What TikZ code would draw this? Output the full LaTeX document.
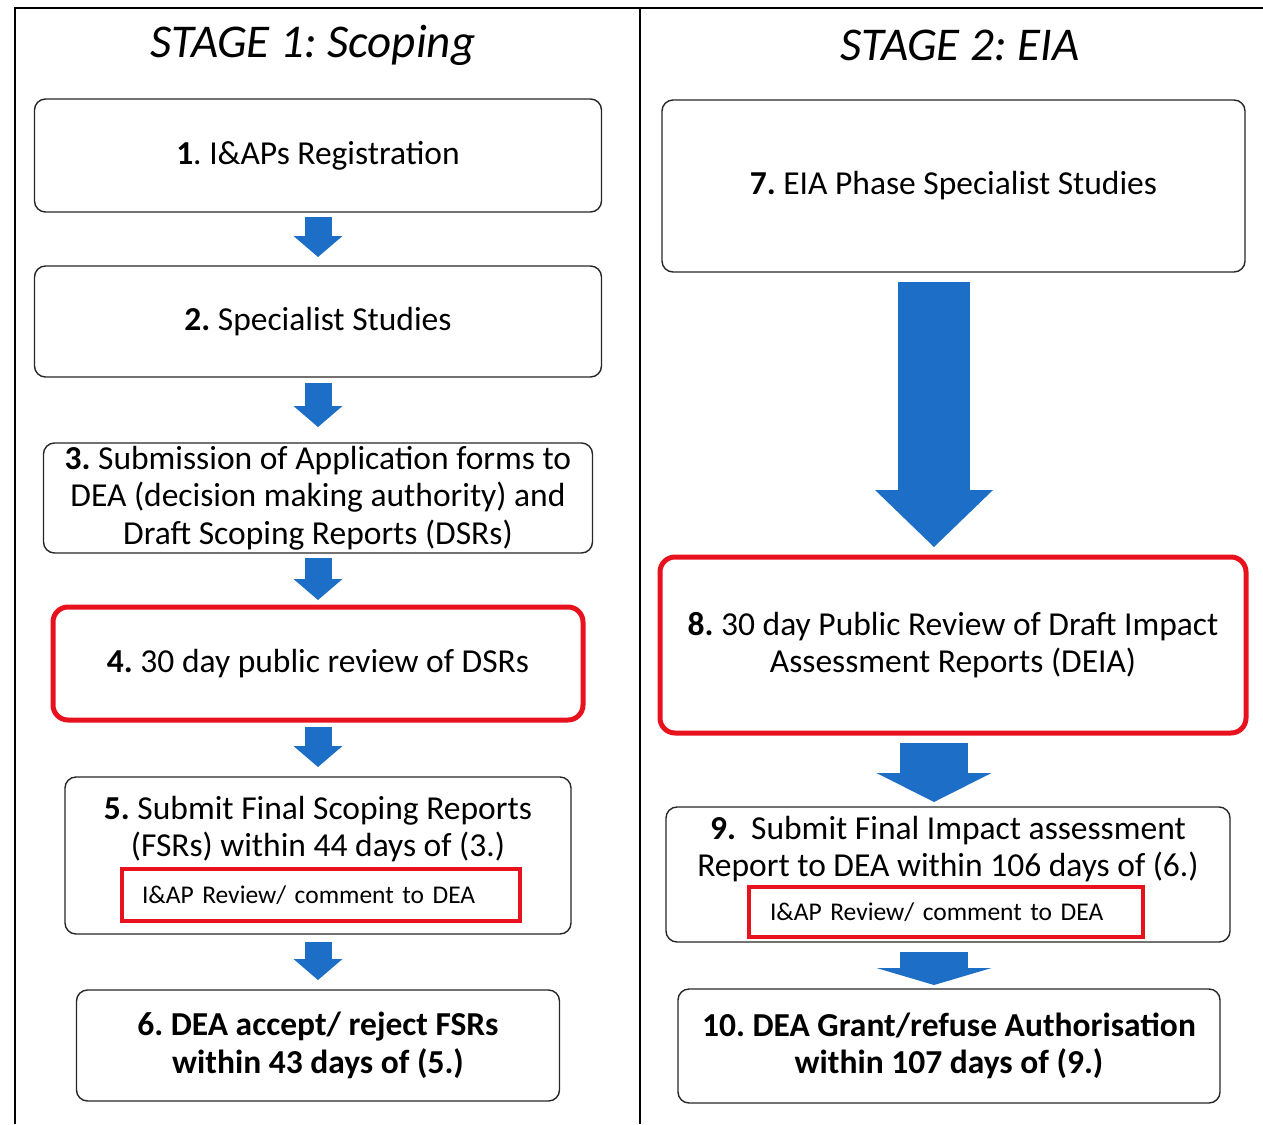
\documentclass[tikz,border=0pt]{standalone}
\usepackage{fontspec}
\setmainfont{Carlito}
\usetikzlibrary{arrows.meta}
\definecolor{flowblue}{RGB}{28,110,198}
\definecolor{flowred}{RGB}{232,18,30}
\tikzset{
  stepbox/.style={draw=black!85, line width=1.4pt, rounded corners=11pt, inner sep=0pt, outer sep=0pt, align=center, font=\fontsize{33.5}{37.5}\selectfont},
  keybox/.style={stepbox, draw=flowred, line width=5pt, rounded corners=15pt},
  boldbox/.style={stepbox, font=\fontsize{33.5}{37.5}\selectfont\bfseries},
  steptext/.style={align=center, inner sep=0pt, font=\fontsize{33.5}{37.5}\selectfont},
  reviewbox/.style={draw=flowred, line width=3.5pt, inner ysep=0pt, align=left, font=\fontsize{25.5}{30}\selectfont},
  stagetitle/.style={font=\fontsize{47}{56}\selectfont\itshape},
  flowarrow/.style={draw=flowblue, line width=27pt, -{Triangle[width=49pt,length=21pt,line width=0pt]}},
  bigarrow/.style={draw=flowblue, line width=#1},
}
\frenchspacing

\begin{document}
\begin{tikzpicture}[x=1pt,y=-1pt]
    \useasboundingbox (0,0) rectangle (1263,1124);
    \draw[line width=2pt] (15,1124) -- (15,8) -- (1263,8);
    \draw[line width=2pt] (640,8) -- (640,1124);

    \node[stagetitle] (stage1) at (313,45) {STAGE 1: Scoping};
    \node[stagetitle] (stage2) at (960,45) {STAGE 2: EIA};

    \node[stepbox, minimum width=567pt, minimum height=113pt] (s1) at (318,155.5) {\textbf{1}. I\&APs Registration};
    \node[stepbox, minimum width=567pt, minimum height=111pt] (s2) at (318,321.5) {\textbf{2.} Specialist Studies};
    \node[stepbox, minimum width=549pt, minimum height=110pt] (s3) at (318,498) {\textbf{3.} Submission of Application forms to\\DEA (decision making authority) and\\Draft Scoping Reports (DSRs)};
    \node[keybox, minimum width=530pt, minimum height=113pt] (s4) at (318,663.5) {\textbf{4.} 30 day public review of DSRs};
    \node[stepbox, minimum width=506pt, minimum height=157pt] (s5) at (318,855.5) {};
    \node[steptext] (s5text) at (318,829) {\textbf{5.} Submit Final Scoping Reports\\(FSRs) within 44 days of (3.)};
    \node[reviewbox, inner xsep=20pt, text width=358pt, minimum height=52pt] (s5review) at (321,895) {I\&AP Review/ comment to DEA};
    \node[boldbox, minimum width=483pt, minimum height=111pt] (s6) at (318,1045.5) {6. DEA accept/ reject FSRs\\within 43 days of (5.)};

    \node[stepbox, minimum width=583pt, minimum height=172pt] (s7) at (953.5,186) {\textbf{7.} EIA Phase Specialist Studies};
    \node[keybox, minimum width=586pt, minimum height=176pt] (s8) at (953,645) {\textbf{8.} 30 day Public Review of Draft Impact\\Assessment Reports (DEIA)};
    \node[stepbox, minimum width=564pt, minimum height=135pt] (s9) at (948,874.5) {};
    \node[steptext] (s9text) at (948,849) {\textbf{9.}~ Submit Final Impact assessment\\Report to DEA within 106 days of (6.)};
    \node[reviewbox, inner xsep=21pt, text width=352pt, minimum height=50pt] (s9review) at (946,912) {I\&AP Review/ comment to DEA};
    \node[boldbox, minimum width=542pt, minimum height=114pt] (s10) at (949,1046) {10. DEA Grant/refuse Authorisation\\within 107 days of (9.)};

    \draw[flowarrow, shorten <=5pt, shorten >=9pt] (s1.south) -- (s2.north);
    \draw[flowarrow, shorten <=6pt, shorten >=16pt] (s2.south) -- (s3.north);
    \draw[flowarrow, shorten <=5pt, shorten >=7pt] (s3.south) -- (s4.north);
    \draw[flowarrow, shorten <=7pt, shorten >=10pt] (s4.south) -- (s5.north);
    \draw[flowarrow, shorten <=8pt, shorten >=10pt] (s5.south) -- (s6.north);

    \draw[bigarrow=72pt, -{Triangle[width=118pt,length=57pt,line width=0pt]}, shorten <=10pt, shorten >=10pt] ([xshift=-19.5pt]s7.south) -- ([xshift=-19pt]s8.north);
    \draw[bigarrow=68pt, -{Triangle[width=115pt,length=29pt,line width=0pt]}, shorten <=10pt, shorten >=5pt] ([xshift=-19pt]s8.south) -- ([xshift=-14pt]s9.north);
    \draw[bigarrow=68pt, -{Triangle[width=115pt,length=17pt,line width=0pt]}, shorten <=10pt, shorten >=4pt] ([xshift=-14pt]s9.south) -- ([xshift=-15pt]s10.north);
\end{tikzpicture}
\end{document}
